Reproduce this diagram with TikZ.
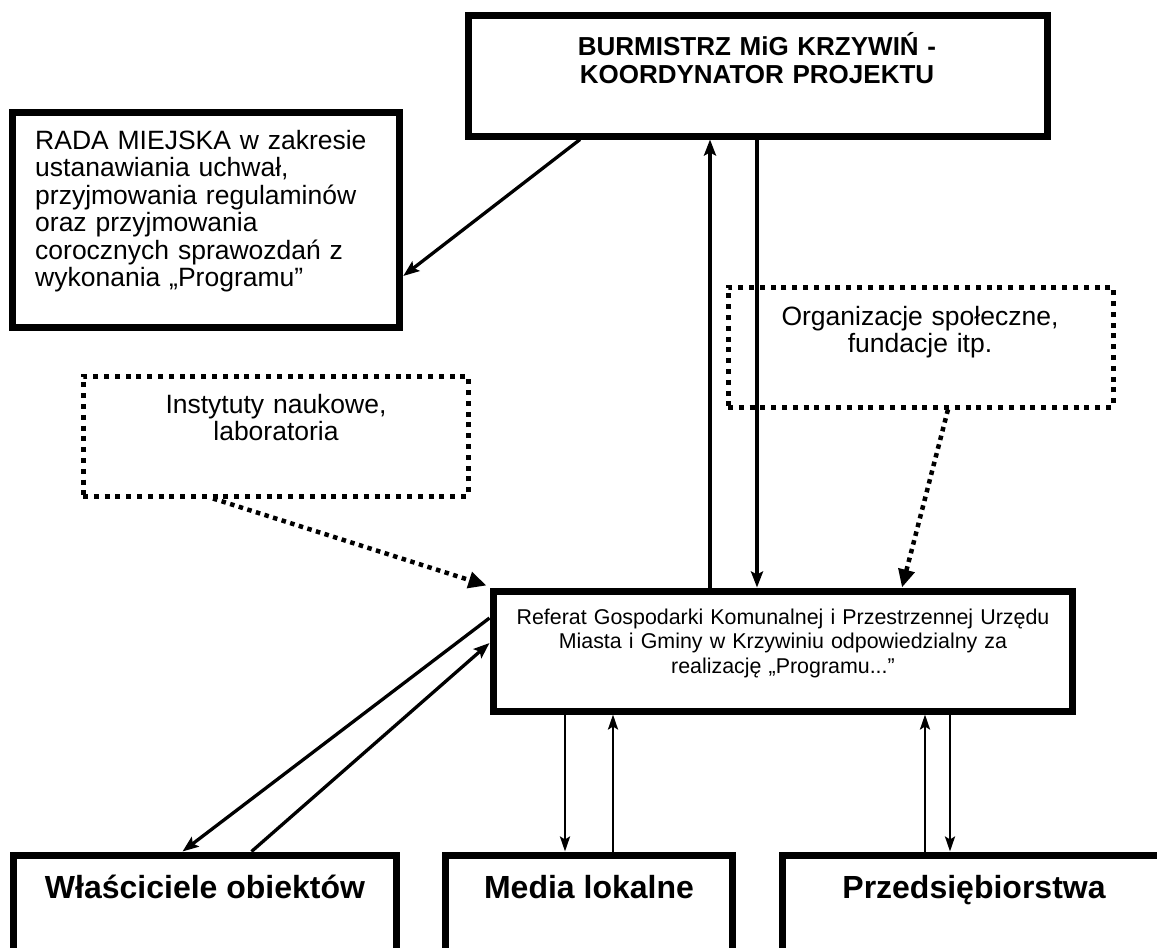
\documentclass[tikz,border=0pt]{standalone}
\usepackage{fontspec}
\setmainfont{Liberation Sans}
\usetikzlibrary{arrows.meta,calc}
\begin{document}
\begin{tikzpicture}[x=1pt,y=-1pt,
  sbox/.style={draw, line width=7pt, inner sep=0pt},
  dbox/.style={draw, line width=5pt, dash pattern=on 5pt off 5.8pt, inner sep=0pt},
  txt/.style={inner sep=0pt},
  arr/.style={line width=3.3pt, -{Stealth[length=16pt,width=12pt,inset=3pt]}},
  tarr/.style={line width=2.6pt, -{Stealth[length=15pt,width=10pt,inset=3pt]}},
  darr/.style={line width=4.5pt, dash pattern=on 4.5pt off 4.5pt, -{Triangle[length=18pt,width=16pt]}},
  regtxt/.style={font=\fontsize{26.5}{27.5}\selectfont},
  midtxt/.style={font=\fontsize{21.4}{24.5}\selectfont},
  bigtxt/.style={font=\bfseries\fontsize{32}{34}\selectfont}
]
\useasboundingbox (0,0) rectangle (1157,948);
\clip (0,0) rectangle (1157,948);

% boxes
\node[sbox, minimum width=579pt, minimum height=121pt] (top) at (757.5,75.5) {};
\node[sbox, minimum width=387.5pt, minimum height=215pt] (rada) at (206,219.5) {};
\node[dbox, minimum width=385pt, minimum height=120pt] (inst) at (275.5,436) {};
\node[dbox, minimum width=385pt, minimum height=120pt] (org) at (920.5,347) {};
\node[sbox, minimum width=579pt, minimum height=120pt] (ctr) at (782.5,651) {};
\node[sbox, minimum width=383pt, minimum height=150pt] (wlas) at (204.5,930) {};
\node[sbox, minimum width=287pt, minimum height=150pt] (media) at (588.5,930) {};
\node[sbox, minimum width=384pt, minimum height=150pt] (przed) at (974,930) {};

% texts
\node[txt, text width=560pt, align=center, anchor=base, font=\bfseries\fontsize{26}{28.5}\selectfont] (topT) at (757,55) {BURMISTRZ MiG KRZYWIŃ -\\KOORDYNATOR PROJEKTU};
\node[txt, text width=370pt, align=left, anchor=base west, regtxt] (radaT) at (35,149) {RADA MIEJSKA w zakresie\\ustanawiania uchwał,\\przyjmowania regulaminów\\oraz przyjmowania\\corocznych sprawozdań z\\wykonania „Programu”};
\node[txt, text width=370pt, align=center, anchor=base, regtxt] (instT) at (276,413) {Instytuty naukowe,\\laboratoria};
\node[txt, text width=370pt, align=center, anchor=base, regtxt] (orgT) at (920,325) {Organizacje społeczne,\\fundacje itp.};
\node[txt, text width=570pt, align=center, anchor=base, midtxt] (ctrT) at (783,624) {Referat Gospodarki Komunalnej i Przestrzennej Urzędu\\Miasta i Gminy w Krzywiniu odpowiedzialny za\\realizację „Programu...”};
\node[txt, anchor=base, bigtxt] (wlasT) at (205,898) {Właściciele obiektów};
\node[txt, anchor=base, bigtxt] (mediaT) at (589,898) {Media lokalne};
\node[txt, anchor=base, bigtxt] (przedT) at (974,898) {Przedsiębiorstwa};

% helper coordinates for vertical connectors
\coordinate (x580) at (580,0);
\coordinate (x710) at (710,0);
\coordinate (x757) at (757,0);
\coordinate (x565) at (565,0);
\coordinate (x613) at (613,0);
\coordinate (x925) at (925,0);
\coordinate (x950) at (950,0);
\coordinate (x213) at (213,0);
\coordinate (x948) at (948,0);
\coordinate (x902) at (902,0);

% connectors
\draw[arr] (ctr.north -| x710) -- (top.south -| x710);
\draw[arr] (top.south -| x757) -- (ctr.north -| x757);
\draw[arr] (top.south -| x580) -- ($(rada.east)+(0,56.5)$);
\draw[arr] ($(ctr.west)+(0,-33)$) -- ($(wlas.north west)+(173,0)$);
\draw[arr] ($(wlas.north west)+(242,0)$) -- ($(ctr.west)+(0,-8)$);
\draw[tarr] (ctr.south -| x565) -- (media.north -| x565);
\draw[tarr] (media.north -| x613) -- (ctr.south -| x613);
\draw[tarr] (przed.north -| x925) -- (ctr.south -| x925);
\draw[tarr] (ctr.south -| x950) -- (przed.north -| x950);
\draw[darr] (inst.south -| x213) -- ($(ctr.north west)+(-3,-2)$);
\draw[darr] (org.south -| x948) -- (ctr.north -| x902);
\end{tikzpicture}
\end{document}
